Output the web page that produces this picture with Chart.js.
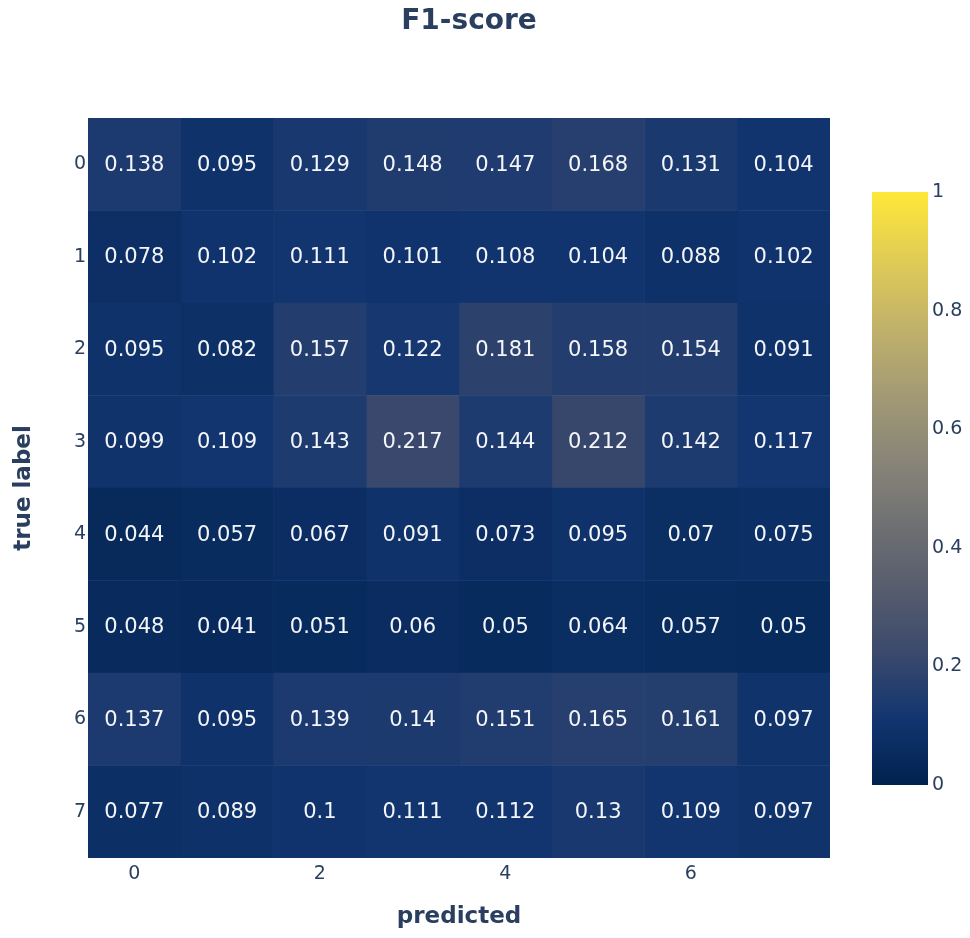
<!DOCTYPE html>
<html>
<head>
<meta charset="utf-8">
<script src="https://cdn.jsdelivr.net/npm/chart.js@4.4.1/dist/chart.umd.min.js"></script>
<style>
  html, body { margin: 0; padding: 0; background: #ffffff; }
  #wrap { position: relative; width: 970px; height: 938px; }
  #main { position: absolute; left: 0; top: 0; }
  #scaleBar { position: absolute; left: 860px; top: 150px; }
</style>
</head>
<body>
<div id="wrap">
  <canvas id="main" width="938" height="938"></canvas>
  <canvas id="scaleBar" width="110" height="700"></canvas>
</div>
<script>
// Axis categories and tick labels
const predictedLabels = ['0', '1', '2', '3', '4', '5', '6', '7'];
const trueLabels = ['0', '1', '2', '3', '4', '5', '6', '7'];
const predictedTicks = [0, 2, 4, 6];
const colorbarTicks = [0, 0.2, 0.4, 0.6, 0.8, 1];

// F1-score per true label (row), one value per predicted label (column)
const f1True0 = [0.138, 0.095, 0.129, 0.148, 0.147, 0.168, 0.131, 0.104];
const f1True1 = [0.078, 0.102, 0.111, 0.101, 0.108, 0.104, 0.088, 0.102];
const f1True2 = [0.095, 0.082, 0.157, 0.122, 0.181, 0.158, 0.154, 0.091];
const f1True3 = [0.099, 0.109, 0.143, 0.217, 0.144, 0.212, 0.142, 0.117];
const f1True4 = [0.044, 0.057, 0.067, 0.091, 0.073, 0.095, 0.07, 0.075];
const f1True5 = [0.048, 0.041, 0.051, 0.06, 0.05, 0.064, 0.057, 0.05];
const f1True6 = [0.137, 0.095, 0.139, 0.14, 0.151, 0.165, 0.161, 0.097];
const f1True7 = [0.077, 0.089, 0.1, 0.111, 0.112, 0.13, 0.109, 0.097];
const f1Rows = [f1True0, f1True1, f1True2, f1True3, f1True4, f1True5, f1True6, f1True7];

// Cividis colour scale, evenly spaced stops from 0 to 1
const cividisStops = ['#00224e', '#123570', '#3b496c', '#575d6d', '#707173',
                      '#8a8678', '#a59c74', '#c3b369', '#e1cc55', '#fee838'];

function hexToRgb(h) {
  return [parseInt(h.slice(1, 3), 16), parseInt(h.slice(3, 5), 16), parseInt(h.slice(5, 7), 16)];
}
function cividis(v) {
  const n = cividisStops.length - 1;
  const t = Math.min(Math.max(v, 0), 1) * n;
  const i = Math.min(Math.floor(t), n - 1);
  const f = t - i;
  const a = hexToRgb(cividisStops[i]);
  const b = hexToRgb(cividisStops[i + 1]);
  const c = a.map((x, k) => Math.round(x + (b[k] - x) * f));
  return 'rgb(' + c.join(',') + ')';
}

const fontFamily = '"DejaVu Sans", "Open Sans", sans-serif';
const textColor = '#2a3f5f';
Chart.defaults.font.family = fontFamily;
Chart.defaults.color = textColor;

// One floating-bar dataset per predicted column; each bar spans one cell
const columnDatasets = predictedLabels.map((lab, c) => ({
  label: 'predicted ' + lab,
  data: trueLabels.map(() => [c - 0.5, c + 0.5]),
  f1: f1Rows.map(row => row[c]),
  backgroundColor: f1Rows.map(row => cividis(row[c])),
  grouped: false,
  barPercentage: 1,
  categoryPercentage: 1,
  borderWidth: 0,
  borderSkipped: false
}));

// Writes each cell's value on top of its bar
const cellText = {
  id: 'cellText',
  afterDatasetsDraw(chart) {
    const ctx = chart.ctx;
    ctx.save();
    ctx.font = '21px ' + fontFamily;
    ctx.fillStyle = '#f4f5f8';
    ctx.textAlign = 'center';
    ctx.textBaseline = 'middle';
    chart.data.datasets.forEach((ds, i) => {
      chart.getDatasetMeta(i).data.forEach((el, j) => {
        const p = el.getCenterPoint();
        ctx.fillText(String(ds.f1[j]), p.x, p.y + 1);
      });
    });
    ctx.restore();
  }
};

new Chart(document.getElementById('main'), {
  type: 'bar',
  data: { labels: trueLabels, datasets: columnDatasets },
  plugins: [cellText],
  options: {
    indexAxis: 'y',
    responsive: false,
    animation: false,
    devicePixelRatio: 1,
    layout: { padding: 0 },
    plugins: {
      legend: { display: false },
      tooltip: { enabled: false },
      title: {
        display: true,
        text: 'F1-score',
        color: textColor,
        font: { size: 28, weight: 'bold' },
        padding: { top: 5, bottom: 79.4 }
      }
    },
    scales: {
      x: {
        type: 'linear',
        position: 'bottom',
        min: -0.5,
        max: 7.5,
        afterBuildTicks: s => { s.ticks = predictedTicks.map(v => ({ value: v })); },
        ticks: { font: { size: 19 }, padding: 5, color: textColor, callback: v => String(v) },
        grid: { display: false, drawTicks: false },
        border: { display: false },
        title: {
          display: true,
          text: 'predicted',
          color: textColor,
          font: { size: 23, weight: 'bold' },
          padding: { top: 0, bottom: 7 }
        },
        afterFit: s => { s.height = 80; }
      },
      y: {
        type: 'category',
        position: 'left',
        offset: true,
        ticks: { font: { size: 19 }, padding: 2, color: textColor },
        grid: { display: false, drawTicks: false },
        border: { display: false },
        title: {
          display: true,
          text: 'true label',
          color: textColor,
          font: { size: 23, weight: 'bold' },
          padding: { top: 10, bottom: 0 }
        },
        afterFit: s => { s.width = 88; }
      },
      gutter: {
        type: 'linear',
        position: 'right',
        display: true,
        ticks: { display: false },
        grid: { display: false, drawTicks: false },
        border: { display: false },
        afterFit: s => { s.width = 108; }
      }
    }
  }
});

// Colour bar: a single floating bar from 0 to 1 filled with the scale gradient
new Chart(document.getElementById('scaleBar'), {
  type: 'bar',
  data: {
    labels: ['F1'],
    datasets: [{
      data: [[0, 1]],
      barPercentage: 1,
      categoryPercentage: 1,
      borderWidth: 0,
      borderSkipped: false,
      backgroundColor: ctx => {
        const chart = ctx.chart;
        const ys = chart.scales.y;
        if (!ys || !chart.chartArea) return cividisStops[0];
        const g = chart.ctx.createLinearGradient(0, ys.getPixelForValue(0), 0, ys.getPixelForValue(1));
        cividisStops.forEach((c, i) => g.addColorStop(i / (cividisStops.length - 1), c));
        return g;
      }
    }]
  },
  options: {
    responsive: false,
    animation: false,
    devicePixelRatio: 1,
    layout: { padding: { top: 42, bottom: 65, left: 12, right: 0 } },
    plugins: { legend: { display: false }, tooltip: { enabled: false } },
    scales: {
      x: { display: false },
      y: {
        position: 'right',
        min: 0,
        max: 1,
        afterBuildTicks: s => { s.ticks = colorbarTicks.map(v => ({ value: v })); },
        ticks: { font: { size: 19 }, padding: 4, color: textColor, callback: v => String(v) },
        grid: { display: false, drawTicks: false },
        border: { display: false },
        afterFit: s => { s.width = 42; }
      }
    }
  }
});
</script>
</body>
</html>
